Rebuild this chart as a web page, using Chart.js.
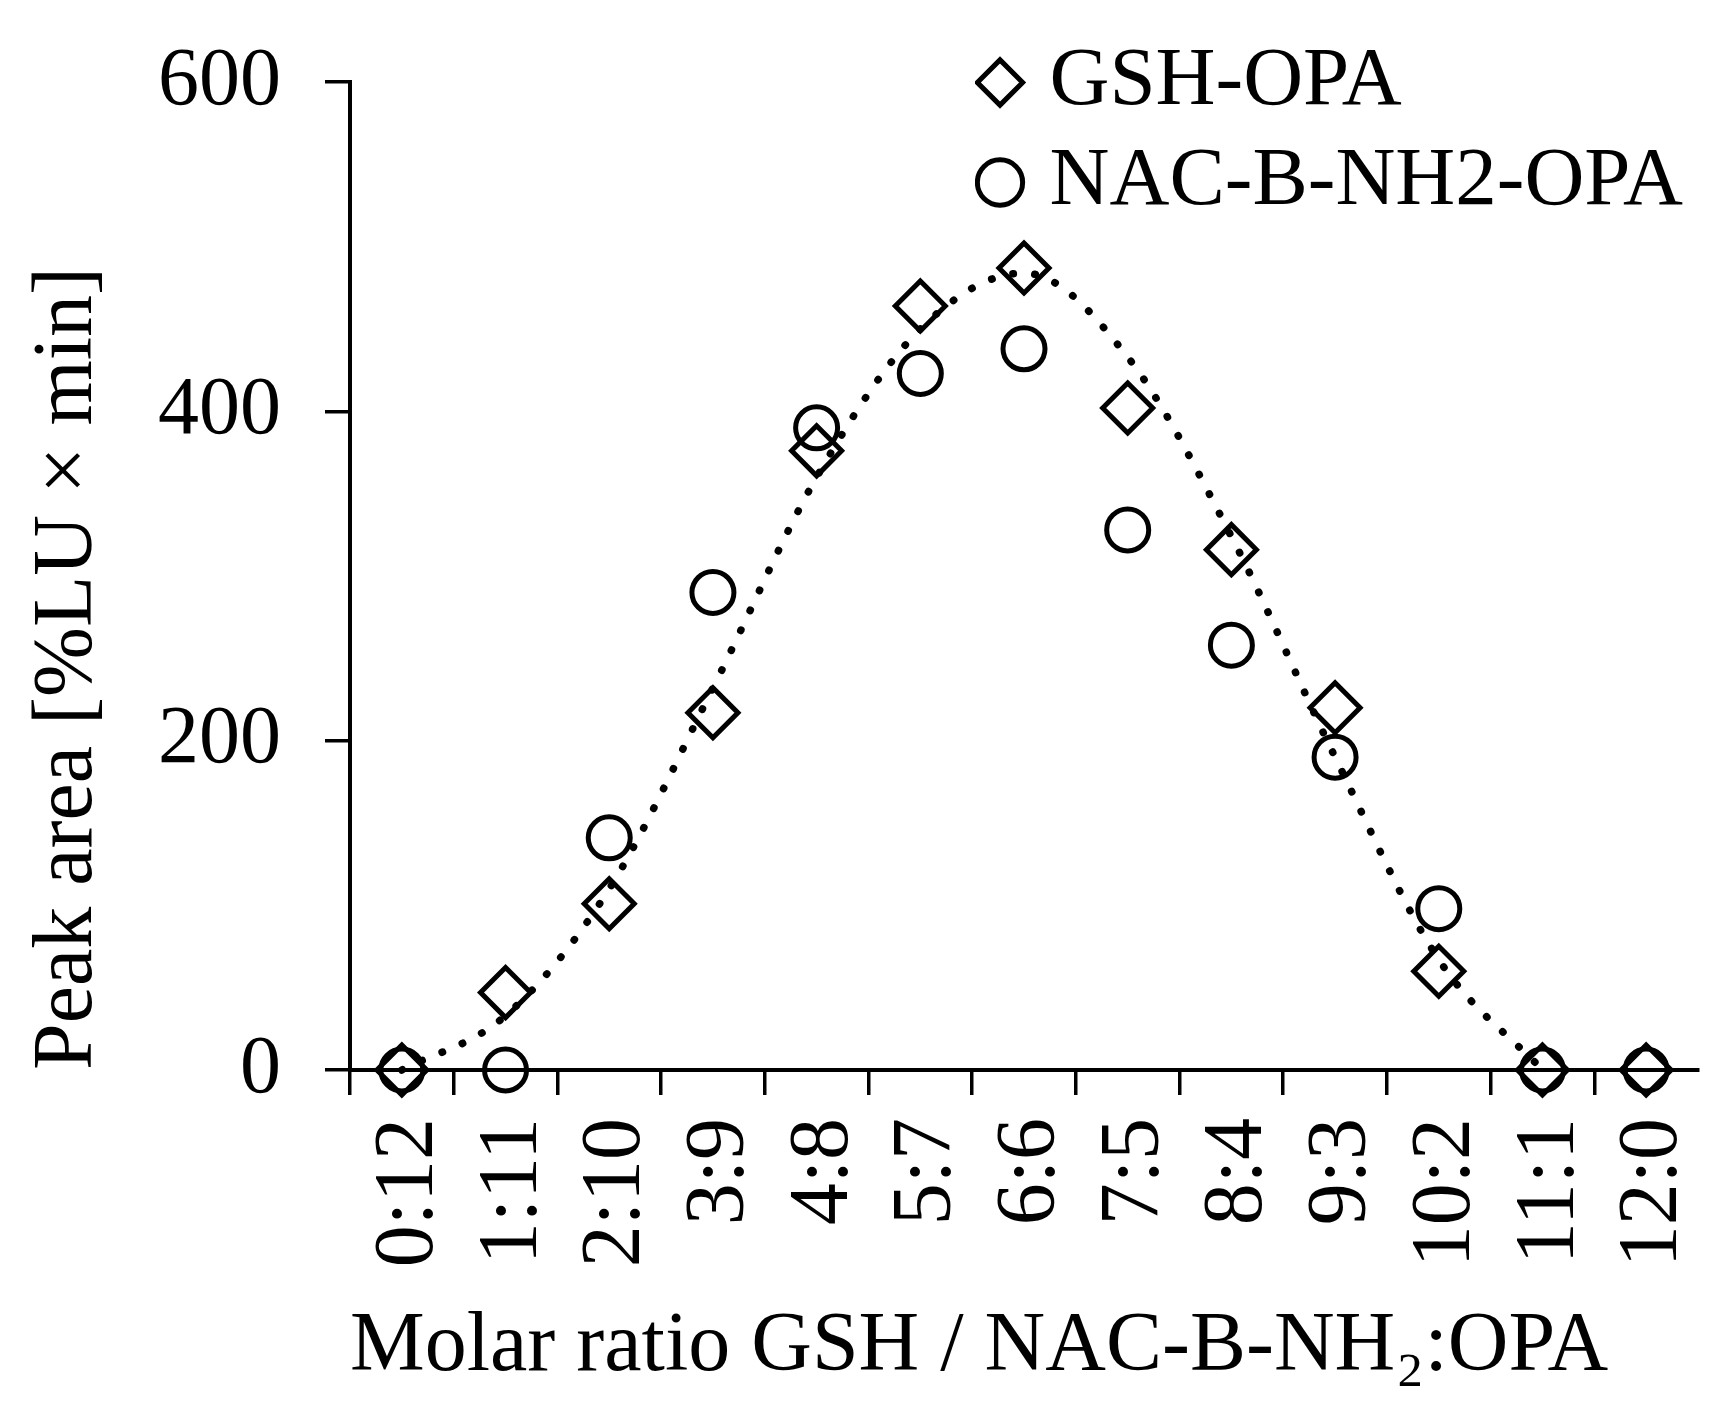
<!DOCTYPE html>
<html>
<head>
<meta charset="utf-8">
<title>Peak area vs molar ratio</title>
<script src="https://cdn.jsdelivr.net/npm/chart.js@4.4.1/dist/chart.umd.min.js"></script>
<style>
    html, body { margin: 0; padding: 0; background: #fff; }
    #wrap { width: 1728px; height: 1414px; }
</style>
</head>
<body>
<div id="wrap"><canvas id="ratioChart"></canvas></div>
<script>
var ratios = ["0:12", "1:11", "2:10", "3:9", "4:8", "5:7", "6:6", "7:5", "8:4", "9:3", "10:2", "11:1", "12:0"];
var gshOpa = [0, 47, 101, 217, 376, 464, 487, 402, 316, 220, 60, 0, 0];
var nacOpa = [0, 0, 141, 290, 390, 423, 438, 328, 258, 190, 98, 0, 0];
var gshTrend = [0, 33, 110, 232, 360, 450, 484, 433, 324, 190, 67, 0, null];
var yMin = 0, yMax = 600, yStep = 200;

Chart.defaults.font.family = "'Liberation Serif', 'Times New Roman', serif";
Chart.defaults.color = "#000";

// put the legend in the top right corner, partly above the plot top
var legendSpot = {
    id: "legendSpot",
    afterLayout: function(chart) {
        var lg = chart.legend;
        lg.left = 975;
        lg.top = 24;
        lg.right = chart.width;
        lg.bottom = chart.height;
    }
};

var ctx = document.getElementById("ratioChart");

var chart = new Chart(ctx, {
    type: "line",
    data: {
        labels: ratios,
        datasets: [
            {
                label: "GSH-OPA",
                data: gshOpa,
                showLine: false,
                pointStyle: "rectRot",
                pointRadius: 25,
                pointBorderWidth: 5,
                pointBorderColor: "#000",
                pointBackgroundColor: "rgba(0,0,0,0)",
                borderColor: "#000",
                backgroundColor: "rgba(0,0,0,0)",
                clip: false
            },
            {
                label: "NAC-B-NH2-OPA",
                data: nacOpa,
                showLine: false,
                pointStyle: "circle",
                pointRadius: 21,
                pointBorderWidth: 5,
                pointBorderColor: "#000",
                pointBackgroundColor: "rgba(0,0,0,0)",
                borderColor: "#000",
                backgroundColor: "rgba(0,0,0,0)",
                clip: false
            },
            {
                label: "trend",
                data: gshTrend,
                borderColor: "#000",
                borderWidth: 7.5,
                borderDash: [0.5, 21.5],
                borderCapStyle: "round",
                cubicInterpolationMode: "monotone",
                pointRadius: 0,
                fill: false,
                clip: false
            }
        ]
    },
    options: {
        responsive: true,
        maintainAspectRatio: false,
        animation: false,
        events: [],
        layout: {
            padding: { left: 19, top: 82, right: 25, bottom: 16 }
        },
        plugins: {
            tooltip: { enabled: false },
            legend: {
                position: "chartArea",
                align: "start",
                labels: {
                    usePointStyle: true,
                    boxWidth: 16,
                    boxHeight: 32,
                    padding: 17,
                    color: "#000",
                    font: { size: 83 },
                    filter: function(item) { return item.datasetIndex < 2; }
                }
            }
        },
        scales: {
            x: {
                offset: true,
                afterFit: function(s) {
                    s.height = 328;
                    s.paddingLeft = 0;
                    s.paddingRight = 0;
                },
                grid: {
                    offset: true,
                    drawOnChartArea: false,
                    tickLength: 25,
                    lineWidth: 3.5,
                    color: function(c) { return c.type === "tick" ? "#000" : "rgba(0,0,0,0)"; }
                },
                border: { display: true, color: "#000", width: 4 },
                ticks: {
                    autoSkip: false,
                    maxRotation: 90,
                    minRotation: 90,
                    padding: 23,
                    labelOffset: 8,
                    color: "#000",
                    font: { size: 84 }
                },
                title: {
                    display: true,
                    text: "Molar ratio GSH / NAC-B-NH\u2082:OPA",
                    align: "start",
                    color: "#000",
                    font: { size: 84 },
                    padding: { top: 30, bottom: 0 }
                }
            },
            y: {
                min: yMin,
                max: yMax,
                afterFit: function(s) {
                    s.width = 331;
                    s.paddingTop = 0;
                    s.paddingBottom = 0;
                },
                grid: {
                    drawOnChartArea: false,
                    tickLength: 25,
                    lineWidth: 3.5,
                    color: "#000"
                },
                border: { display: true, color: "#000", width: 4 },
                ticks: {
                    stepSize: yStep,
                    padding: 44,
                    color: "#000",
                    font: { size: 82 }
                },
                title: {
                    display: true,
                    text: "Peak area [%LU \u00d7 min]",
                    align: "start",
                    color: "#000",
                    font: { size: 84 },
                    padding: { top: 0, bottom: 38 }
                }
            }
        }
    },
    plugins: [legendSpot]
});
</script>
</body>
</html>
